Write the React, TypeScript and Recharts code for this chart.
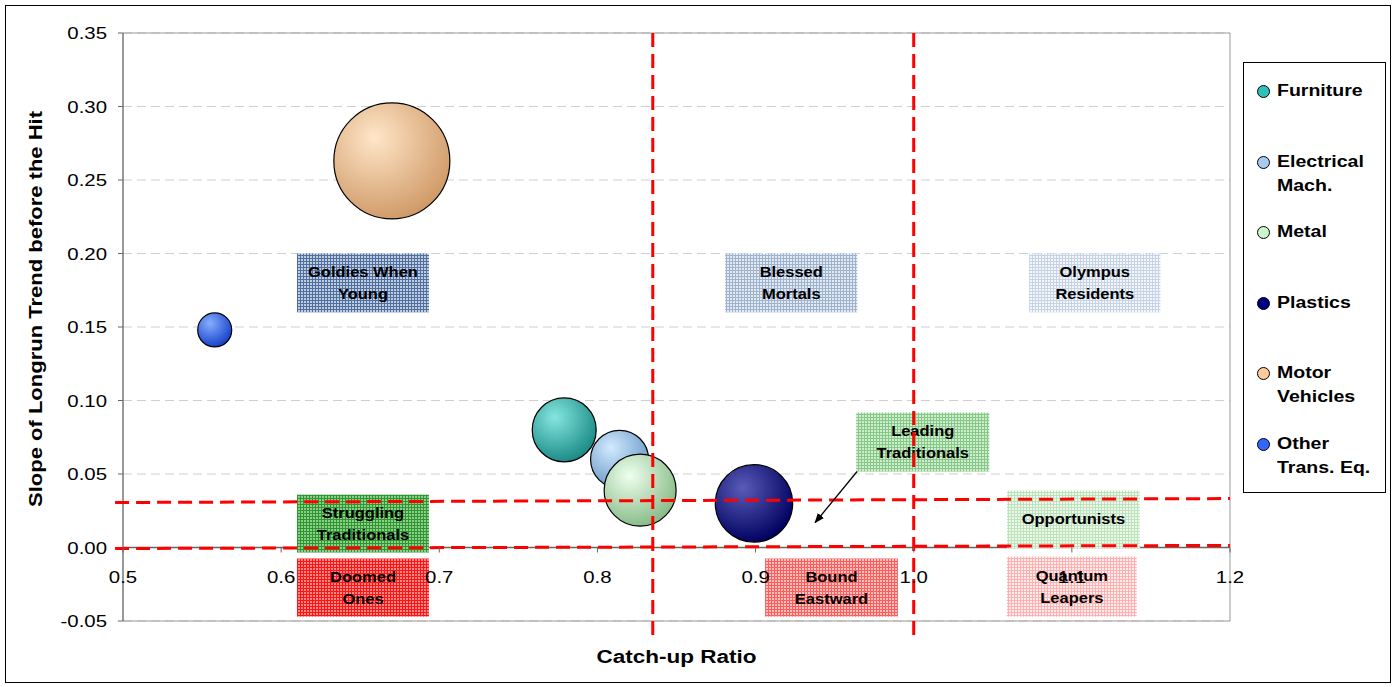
import {
  CartesianGrid,
  Label,
  ReferenceArea,
  ReferenceLine,
  Scatter,
  ScatterChart,
  XAxis,
  YAxis,
  ZAxis,
} from "recharts";

// Sectors, plotted as catch-up ratio vs. slope of the long-run trend; bubble = relative size.
const sectors = ["Furniture", "Electrical Mach.", "Metal", "Plastics", "Motor Vehicles", "Other Trans. Eq."];
const catchUpRatio = [0.779, 0.814, 0.827, 0.899, 0.67, 0.558];
const longrunSlope = [0.08, 0.06, 0.039, 0.03, 0.263, 0.148];
const sectorSize = [30.4, 25.0, 38.5, 44.5, 100, 8.6];

const xTicks = [0.5, 0.6, 0.7, 0.8, 0.9, 1.0, 1.1, 1.2];
const yTicks = [-0.05, 0, 0.05, 0.1, 0.15, 0.2, 0.25, 0.3, 0.35];

// quadrant cut-offs: ratio thresholds and the (slightly tilted) slope thresholds
const ratioCuts = [0.835, 1.0];
const slopeCutsLeft = [0.0306, -0.0007];
const slopeCutsRight = [0.0333, 0.0014];

// named zones, in data coordinates
const zoneNames = [
  ["Goldies When", "Young"],
  ["Blessed", "Mortals"],
  ["Olympus", "Residents"],
  ["Struggling", "Traditionals"],
  ["Leading", "Traditionals"],
  ["Opportunists"],
  ["Doomed", "Ones"],
  ["Bound", "Eastward"],
  ["Quantum", "Leapers"],
];
const zoneX = [
  [0.61, 0.6935], [0.8808, 0.9643], [1.073, 1.156],
  [0.61, 0.6935], [0.9636, 1.0478], [1.059, 1.143],
  [0.61, 0.6935], [0.906, 0.99], [1.059, 1.141],
];
const zoneY = [
  [0.16, 0.2], [0.16, 0.2], [0.16, 0.2],
  [-0.0034, 0.036], [0.0517, 0.0918], [-0.0007, 0.0388],
  [-0.047, -0.0075], [-0.047, -0.0075], [-0.047, -0.0062],
];
const leaderFrom = { x: 0.9642, y: 0.0517 };
const leaderTo = { x: 0.9377, y: 0.017 };

const bubbleShades = [
  { hi: "#86e6e0", edge: "#1b8a85", key: "#30c0bb" },
  { hi: "#d2eaff", edge: "#6b98c8", key: "#a6caf0" },
  { hi: "#eeffee", edge: "#88bb88", key: "#ccf5cc" },
  { hi: "#5a5ab8", edge: "#000060", key: "#000080" },
  { hi: "#ffe6c8", edge: "#d09a68", key: "#ffcc99" },
  { hi: "#86afff", edge: "#1640c8", key: "#3366ff" },
];
const zoneShades = [
  { bg: "#c0cde0", line: "#4f6f9f" },
  { bg: "#e3e9f2", line: "#9fb3cf" },
  { bg: "#f2f5fa", line: "#c6d3e5" },
  { bg: "#8ccf8c", line: "#2f962f" },
  { bg: "#d0ecd0", line: "#86c886" },
  { bg: "#eef9ee", line: "#bce2bc" },
  { bg: "#ff8888", line: "#ff1414" },
  { bg: "#ffc0c0", line: "#ff5c5c" },
  { bg: "#ffecec", line: "#ffb0b0" },
];

const W = 1395;
const H = 687;
const PLOT_H = 588;
const Y_MIN = -0.05;
const Y_MAX = 0.35;
const FONT = '"Liberation Sans", Arial, sans-serif';

function StretchText({ x, y, text, size, bold = false, anchor = "middle", sx = 1.2 }: any) {
  return (
    <text
      transform={`translate(${x},${y}) scale(${sx},1)`}
      textAnchor={anchor}
      fontSize={size}
      fontWeight={bold ? 700 : 400}
      fontFamily={FONT}
      fill="#000"
    >
      {text}
    </text>
  );
}

// x labels hang under the zero line, not under the plot frame
function XTick({ x, y, payload }: any) {
  const zeroY = y - (PLOT_H * (0 - Y_MIN)) / (Y_MAX - Y_MIN);
  return (
    <g>
      <line x1={x} x2={x} y1={zeroY} y2={zeroY + 5} stroke="#666" />
      <StretchText x={x} y={zeroY + 35} text={Number(payload.value).toFixed(1)} size={17} />
    </g>
  );
}

function YTick({ x, y, payload }: any) {
  return <StretchText x={x} y={y + 6} text={Number(payload.value).toFixed(2)} size={17} anchor="end" />;
}

function Bubble({ cx, cy, width, index }: any, i: number) {
  return (
    <circle key={index} cx={cx} cy={cy} r={width / 2} fill={`url(#bubble${i})`} stroke="#000" strokeWidth={1.2} />
  );
}

function Legend() {
  return (
    <div
      style={{
        position: "absolute",
        left: 1243,
        top: 62,
        width: 141,
        height: 429,
        border: "1px solid #000",
        background: "#fff",
        fontFamily: FONT,
      }}
    >
      {sectors.map((name, i) => {
        const words = name.split(" ");
        const lines = words.length === 1 ? [name] : name === "Other Trans. Eq." ? ["Other", "Trans. Eq."] : [words[0], words.slice(1).join(" ")];
        return (
          <div key={name} style={{ position: "absolute", left: 0, top: 16 + i * 70.6, width: 141 }}>
            <div
              style={{
                position: "absolute",
                left: 13,
                top: 6,
                width: 11,
                height: 11,
                borderRadius: "50%",
                border: "1px solid #000",
                background: bubbleShades[i].key,
              }}
            />
            {lines.map((t, k) => (
              <div
                key={k}
                style={{
                  position: "absolute",
                  left: 33,
                  top: k * 24,
                  fontSize: 16,
                  lineHeight: "24px",
                  fontWeight: 700,
                  whiteSpace: "nowrap",
                  transform: "scaleX(1.22)",
                  transformOrigin: "left center",
                }}
              >
                {t}
              </div>
            ))}
          </div>
        );
      })}
    </div>
  );
}

export default function App() {
  return (
    <div style={{ position: "absolute", left: 0, top: 0, width: W, height: H, background: "#fff" }}>
      <div style={{ position: "absolute", left: 5, top: 5, width: 1384, height: 676, border: "1px solid #000" }} />
      <div style={{ position: "absolute", left: 0, top: 0 }}>
        <ScatterChart width={W} height={H} margin={{ top: 33, right: 165, bottom: 36, left: 63 }}>
          <defs>
            {bubbleShades.map((c, i) => (
              <radialGradient key={i} id={`bubble${i}`} cx="38%" cy="32%" r="70%" fx="35%" fy="30%">
                <stop offset="0%" stopColor={c.hi} />
                <stop offset="100%" stopColor={c.edge} />
              </radialGradient>
            ))}
            {zoneShades.map((c, i) => (
              <pattern key={i} id={`zone${i}`} width={3} height={3} patternUnits="userSpaceOnUse">
                <rect width={3} height={3} fill={c.bg} />
                <rect width={3} height={1} fill={c.line} />
                <rect width={1} height={3} fill={c.line} />
              </pattern>
            ))}
            <marker id="arrowHead" markerWidth={10} markerHeight={8} refX={9} refY={4} orient="auto" markerUnits="userSpaceOnUse">
              <path d="M0,0 L10,4 L0,8 Z" fill="#000" />
            </marker>
          </defs>
          <CartesianGrid vertical={false} stroke="#cfcfcf" strokeDasharray="9 5" />
          <XAxis
            type="number"
            dataKey="x"
            domain={[0.5, 1.2]}
            ticks={xTicks}
            interval={0}
            allowDataOverflow
            axisLine={false}
            tickLine={false}
            tickSize={0}
            tickMargin={0}
            height={30}
            tick={(p: any) => <XTick {...p} />}
          >
            <Label
              content={({ viewBox }: any) => (
                <StretchText x={viewBox.x + viewBox.width / 2} y={viewBox.y + 42} text="Catch-up Ratio" size={18} bold sx={1.25} />
              )}
            />
          </XAxis>
          <YAxis
            type="number"
            dataKey="y"
            domain={[Y_MIN, Y_MAX]}
            ticks={yTicks}
            interval={0}
            allowDataOverflow
            width={60}
            axisLine={{ stroke: "#666" }}
            tickLine={{ stroke: "#666" }}
            tickSize={5}
            tickMargin={11}
            tick={(p: any) => <YTick {...p} />}
          >
            <Label
              content={({ viewBox }: any) => (
                <text
                  transform={`translate(${viewBox.x - 21},${viewBox.y + viewBox.height / 2 - 18}) rotate(-90)`}
                  textAnchor="middle"
                  fontSize={18}
                  fontWeight={700}
                  fontFamily={FONT}
                  fill="#000"
                  textLength={396}
                  lengthAdjust="spacingAndGlyphs"
                >
                  Slope of Longrun Trend before the Hit
                </text>
              )}
            />
          </YAxis>
          <ZAxis type="number" dataKey="z" domain={[0, 100]} range={[0, Math.PI * 58 * 58]} />
          <ReferenceArea x1={0.5} x2={1.2} y1={Y_MIN} y2={Y_MAX} fill="none" stroke="#999" strokeWidth={1} />
          <ReferenceLine y={0} stroke="#666" strokeWidth={1.5} />
          {sectors.map((name, i) => (
            <Scatter
              key={name}
              name={name}
              data={[{ x: catchUpRatio[i], y: longrunSlope[i], z: sectorSize[i] }]}
              fill={bubbleShades[i].key}
              isAnimationActive={false}
              shape={(p: any) => Bubble(p, i)}
            />
          ))}
          {zoneNames.map((lines, i) => (
            <ReferenceArea
              key={i}
              x1={zoneX[i][0]}
              x2={zoneX[i][1]}
              y1={zoneY[i][0]}
              y2={zoneY[i][1]}
              ifOverflow="visible"
              zIndex={650}
              shape={(p: any) => (
                <g>
                  <rect x={p.x} y={p.y} width={p.width} height={p.height} fill={`url(#zone${i})`} />
                  {lines.map((t, k) => (
                    <StretchText
                      key={k}
                      x={p.x + p.width / 2}
                      y={p.y + p.height / 2 + (k - (lines.length - 1) / 2) * 22 + 5}
                      text={t}
                      size={15}
                      bold
                      sx={1.1}
                    />
                  ))}
                </g>
              )}
            />
          ))}
          {ratioCuts.map((r) => (
            <ReferenceLine
              key={`v${r}`}
              segment={[{ x: r, y: Y_MAX }, { x: r, y: -0.06 }]}
              ifOverflow="visible"
              zIndex={700}
              stroke="#ff0000"
              strokeWidth={3}
              strokeDasharray="14 7"
            />
          ))}
          {slopeCutsLeft.map((s, i) => (
            <ReferenceLine
              key={`h${i}`}
              segment={[{ x: 0.495, y: s }, { x: 1.2, y: slopeCutsRight[i] }]}
              ifOverflow="visible"
              zIndex={700}
              stroke="#ff0000"
              strokeWidth={3}
              strokeDasharray="14 7"
            />
          ))}
          <ReferenceLine
            segment={[leaderFrom, leaderTo]}
            ifOverflow="visible"
            zIndex={700}
            shape={(p: any) => (
              <line x1={p.x1} y1={p.y1} x2={p.x2} y2={p.y2} stroke="#000" strokeWidth={1.3} markerEnd="url(#arrowHead)" />
            )}
          />
        </ScatterChart>
      </div>
      <Legend />
    </div>
  );
}
